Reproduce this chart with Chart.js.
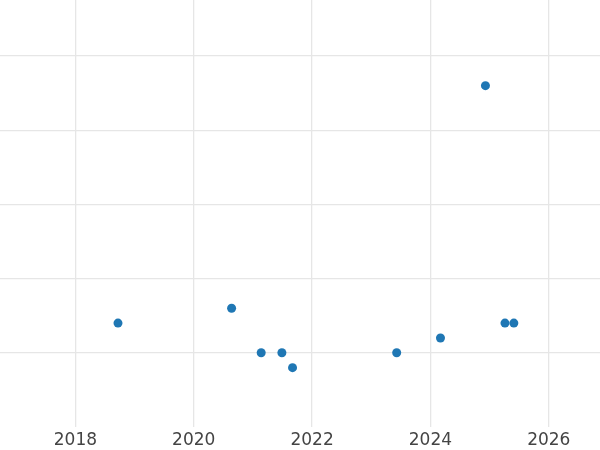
<!DOCTYPE html>
<html>
<head>
<meta charset="utf-8">
<script src="https://cdn.jsdelivr.net/npm/chart.js@4/dist/chart.umd.min.js"></script>
<style>
  html, body { margin: 0; padding: 0; background: #fff; }
  #wrap { width: 600px; height: 450px; }
</style>
</head>
<body>
<div id="wrap"><canvas id="chart"></canvas></div>
<script>
// Data
const years = [2018.72, 2020.64, 2021.14, 2021.49, 2021.67, 2023.43, 2024.17, 2024.93, 2025.26, 2025.41];
const values = [1.4, 1.6, 1.0, 1.0, 0.8, 1.0, 1.2, 4.6, 1.4, 1.4];
const xTicks = [2018, 2020, 2022, 2024, 2026];
const yTicks = [1, 2, 3, 4, 5];

const points = years.map((x, i) => ({ x, y: values[i] }));

new Chart(document.getElementById('chart').getContext('2d'), {
  type: 'scatter',
  data: {
    datasets: [
      {
        data: points,
        backgroundColor: '#1f77b4',
        borderWidth: 0,
        pointRadius: 4.5,
        pointHoverRadius: 4.5
      }
    ]
  },
  options: {
    responsive: true,
    maintainAspectRatio: false,
    animation: false,
    layout: { padding: 0, autoPadding: false },
    plugins: {
      legend: { display: false },
      tooltip: { enabled: false }
    },
    scales: {
      x: {
        type: 'linear',
        min: 2016.726,
        max: 2026.866,
        afterBuildTicks: (scale) => {
          scale.ticks = xTicks.map(v => ({ value: v }));
        },
        afterFit: (scale) => { scale.height = 23; },
        border: { display: false },
        grid: { color: '#e6e6e6', lineWidth: 1.3, drawTicks: false },
        ticks: {
          color: '#444',
          padding: 3,
          maxRotation: 0,
          font: { family: 'DejaVu Sans', size: 17 },
          callback: (v) => String(v)
        }
      },
      y: {
        type: 'linear',
        min: 0,
        max: 5.754,
        afterBuildTicks: (scale) => {
          scale.ticks = yTicks.map(v => ({ value: v }));
        },
        afterFit: (scale) => { scale.width = 0; },
        border: { display: false },
        grid: { color: '#e6e6e6', lineWidth: 1.3, drawTicks: false },
        ticks: { display: false }
      }
    }
  }
});
</script>
</body>
</html>
